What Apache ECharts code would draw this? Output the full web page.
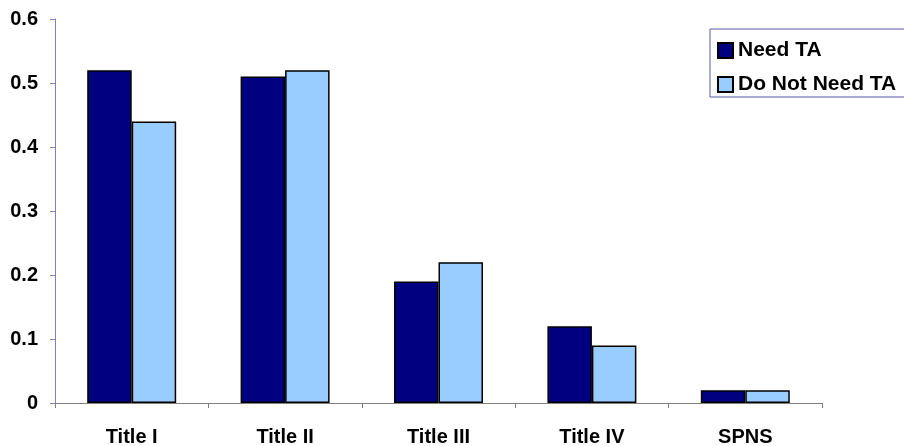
<!DOCTYPE html>
<html>
<head>
<meta charset="utf-8">
<script src="https://cdn.jsdelivr.net/npm/echarts@6/dist/echarts.min.js"></script>
<style>html,body{margin:0;padding:0;background:#fff}#c{width:904px;height:446px}</style>
</head>
<body>
<div id="c"></div>
<script>
// Share of programs by title, split by need for technical assistance
var categories = ['Title I', 'Title II', 'Title III', 'Title IV', 'SPNS'];
var needTA = [0.52, 0.51, 0.19, 0.12, 0.02];
var doNotNeedTA = [0.44, 0.52, 0.22, 0.09, 0.02];
var yTicks = [0, 0.1, 0.2, 0.3, 0.4, 0.5, 0.6];

var font = 'Arial, "Liberation Sans", sans-serif';
var chart = echarts.init(document.getElementById('c'));
chart.setOption({
  animation: false,
  backgroundColor: '#fff',
  grid: { left: 55, right: 82, top: 19, bottom: 43, containLabel: false, outerBoundsMode: 'none' },
  legend: {
    orient: 'vertical',
    left: 710, top: 29,
    padding: [11, 30, 2, 7],
    borderColor: '#5a5aa8', borderWidth: 1,
    itemWidth: 15, itemHeight: 15, itemGap: 13,
    icon: 'rect',
    textStyle: { fontFamily: font, fontWeight: 'bold', fontSize: 21, color: '#000' },
    data: ['Need TA', 'Do Not Need TA']
  },
  xAxis: {
    type: 'category',
    data: categories,
    axisLine: { lineStyle: { color: '#808080', width: 1 } },
    axisTick: { show: true, alignWithLabel: false, length: 5, lineStyle: { color: '#808080' } },
    axisLabel: { fontFamily: font, fontWeight: 'bold', fontSize: 20, color: '#000', margin: 24 }
  },
  yAxis: {
    type: 'value',
    min: yTicks[0], max: yTicks[yTicks.length - 1], interval: 0.1,
    splitLine: { show: false },
    axisLine: { show: true, lineStyle: { color: '#8080c0', width: 1 } },
    axisTick: { show: true, length: 5, lineStyle: { color: '#8080c0' } },
    axisLabel: {
      fontFamily: font, fontWeight: 'bold', fontSize: 20, color: '#000', margin: 17,
      padding: [5, 0, 0, 0],
      formatter: function (v) { return v === 0 ? '0' : v.toFixed(1); }
    }
  },
  series: [
    {
      name: 'Need TA', type: 'bar', data: needTA,
      barGap: '0%', barCategoryGap: '42%',
      itemStyle: { color: '#000080', borderColor: '#000', borderWidth: 1.5 }
    },
    {
      name: 'Do Not Need TA', type: 'bar', data: doNotNeedTA,
      barGap: '0%', barCategoryGap: '42%',
      itemStyle: { color: '#99ccff', borderColor: '#000', borderWidth: 1.5 }
    }
  ]
});
</script>
</body>
</html>
